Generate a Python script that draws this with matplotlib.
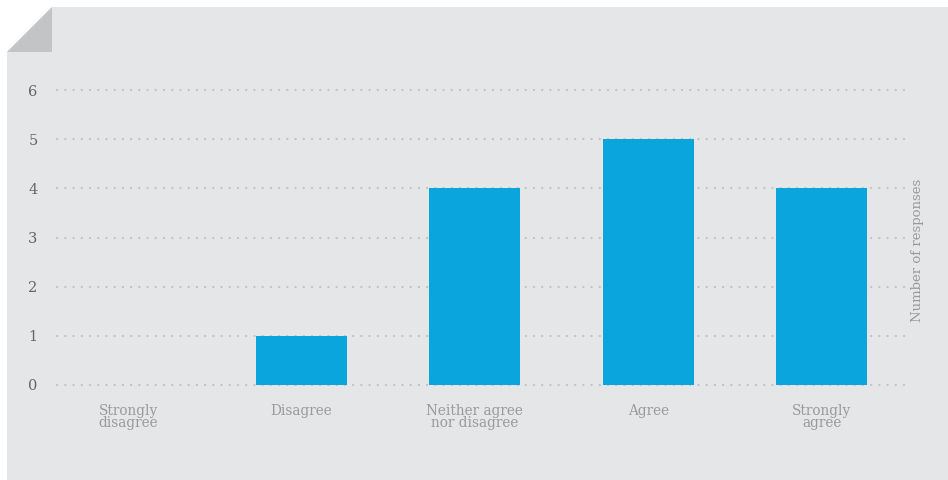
import matplotlib
matplotlib.use("Agg")
import matplotlib.pyplot as plt
from matplotlib.patches import Polygon

categories = ["Strongly\ndisagree", "Disagree", "Neither agree\nnor disagree", "Agree", "Strongly\nagree"]
values = [0, 1, 4, 5, 4]
yticks = [0, 1, 2, 3, 4, 5, 6]
ylabel = "Number of responses"

W, H = 948, 480
fig = plt.figure(figsize=(W / 100, H / 100), dpi=100)
fig.patch.set_facecolor("white")

bg = "#e5e6e8"
# panel with folded corner
panel = Polygon([(52 / W, 1 - 7 / H), (1, 1 - 7 / H), (1, 0), (7 / W, 0), (7 / W, 1 - 52 / H)],
                closed=True, transform=fig.transFigure, facecolor=bg, edgecolor="none", zorder=-10)
fig.patches.append(panel)
fold = Polygon([(52 / W, 1 - 7 / H), (52 / W, 1 - 52 / H), (7 / W, 1 - 52 / H)],
               closed=True, transform=fig.transFigure, facecolor="#c3c4c6", edgecolor="none", zorder=-9)
fig.patches.append(fold)

left, right = 57, 905
top, bottom = 90, 385
ax = fig.add_axes([left / W, 1 - bottom / H, (right - left) / W, (bottom - top) / H])
ax.patch.set_visible(False)

x = list(range(len(categories)))
ax.bar(x, values, width=0.525, color="#0ba5de", zorder=3)
ax.set_xlim(-0.41, 4.48)
ax.set_ylim(0, 6)

for s in ax.spines.values():
    s.set_visible(False)
ax.set_yticks(yticks)
ax.yaxis.grid(True, color="#c2c3c5", linestyle=(0, (0.1, 3.6)), linewidth=1.6,
              dash_capstyle="round", zorder=1)
for gl in ax.get_ygridlines():
    gl.set_clip_on(False)
ax.set_axisbelow(True)
ax.tick_params(axis="y", length=0, pad=14, labelsize=10.5, labelcolor="#666666")
ax.tick_params(axis="x", length=0, pad=14, labelsize=9.8, labelcolor="#9a9a9a")
ax.set_xticks(x)
ax.set_xticklabels(categories, linespacing=0.8, family="DejaVu Serif")
for t in ax.get_yticklabels():
    t.set_family("DejaVu Serif")

fig.text(918 / W, 1 - 250 / H, ylabel, rotation=90, ha="center", va="center",
         fontsize=9.5, color="#9a9a9a", family="DejaVu Serif")

fig.savefig("out.png", dpi=100, facecolor="white")
